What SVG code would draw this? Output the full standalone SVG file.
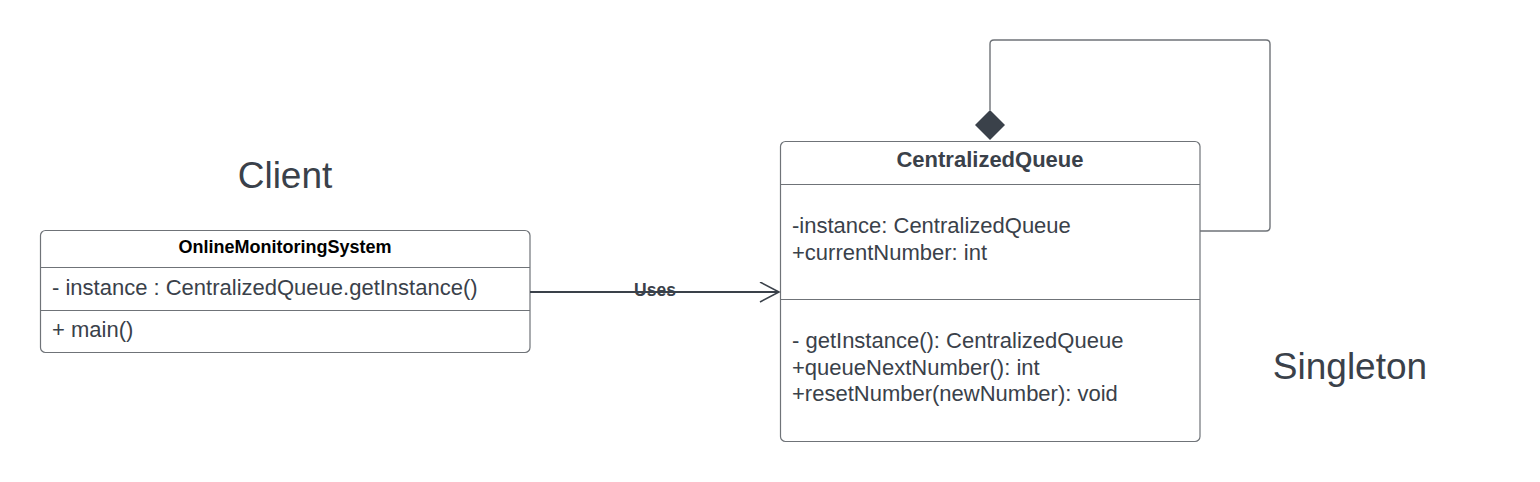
<svg xmlns="http://www.w3.org/2000/svg" width="1540" height="482" viewBox="0 0 1540 482">
<style>
.box{fill:#fff;stroke:#6f7378;stroke-width:1.2}
.div{stroke:#6f7378;stroke-width:1.2}
.t{font-family:"Liberation Sans",Arial,sans-serif;font-size:22px;fill:#3a414a}
.b{font-family:"Liberation Sans",Arial,sans-serif;font-weight:bold;fill:#3a414a}
.big{font-family:"Liberation Sans",Arial,sans-serif;font-size:37px;fill:#3a414a}
.conn{fill:none;stroke:#3a414a;stroke-width:2}
.loop{fill:none;stroke:#6f7378;stroke-width:1.4}
</style>
<defs>
<marker id="open" markerWidth="24" markerHeight="24" refX="20" refY="10" orient="auto" markerUnits="userSpaceOnUse">
<path d="M1,0 L20,10 L1,20" fill="none" stroke="#3a414a" stroke-width="1.6"/>
</marker>
</defs>
<rect width="1540" height="482" fill="#fff"/>
<text class="big" x="285" y="188" text-anchor="middle">Client</text>
<text class="big" x="1350" y="379" text-anchor="middle">Singleton</text>
<g id="OnlineMonitoringSystem">
<rect class="box" x="40.5" y="230.5" width="489.5" height="122" rx="5"/>
<line class="div" x1="40.5" y1="267.5" x2="530" y2="267.5"/>
<line class="div" x1="40.5" y1="310.5" x2="530" y2="310.5"/>
<text class="b" x="285" y="253" font-size="18" text-anchor="middle" style="fill:#000">OnlineMonitoringSystem</text>
<text class="t" x="52" y="295">- instance : CentralizedQueue.getInstance()</text>
<text class="t" x="52" y="337">+ main()</text>
</g>
<g id="CentralizedQueue">
<rect class="box" x="780.5" y="141.5" width="419.5" height="300" rx="5"/>
<line class="div" x1="780.5" y1="184.5" x2="1200" y2="184.5"/>
<line class="div" x1="780.5" y1="299.5" x2="1200" y2="299.5"/>
<text class="b" x="990" y="167" font-size="22" text-anchor="middle">CentralizedQueue</text>
<text class="t" x="792" y="233">-instance: CentralizedQueue</text>
<text class="t" x="792" y="260">+currentNumber: int</text>
<text class="t" x="792" y="348">- getInstance(): CentralizedQueue</text>
<text class="t" x="792" y="375">+queueNextNumber(): int</text>
<text class="t" x="792" y="401">+resetNumber(newNumber): void</text>
</g>
<g id="connectors">
<line class="conn" x1="530" y1="292" x2="779" y2="292" marker-end="url(#open)"/>
<text class="b" x="655" y="296" font-size="17.5" text-anchor="middle">Uses</text>
<path class="loop" d="M1200,231 L1266,231 Q1270,231 1270,227 L1270,44 Q1270,40 1266,40 L994,40 Q990,40 990,44 L990,110"/>
<polygon points="990,110 1005,125 990,140 975,125" fill="#3a414a"/>
</g>
</svg>
